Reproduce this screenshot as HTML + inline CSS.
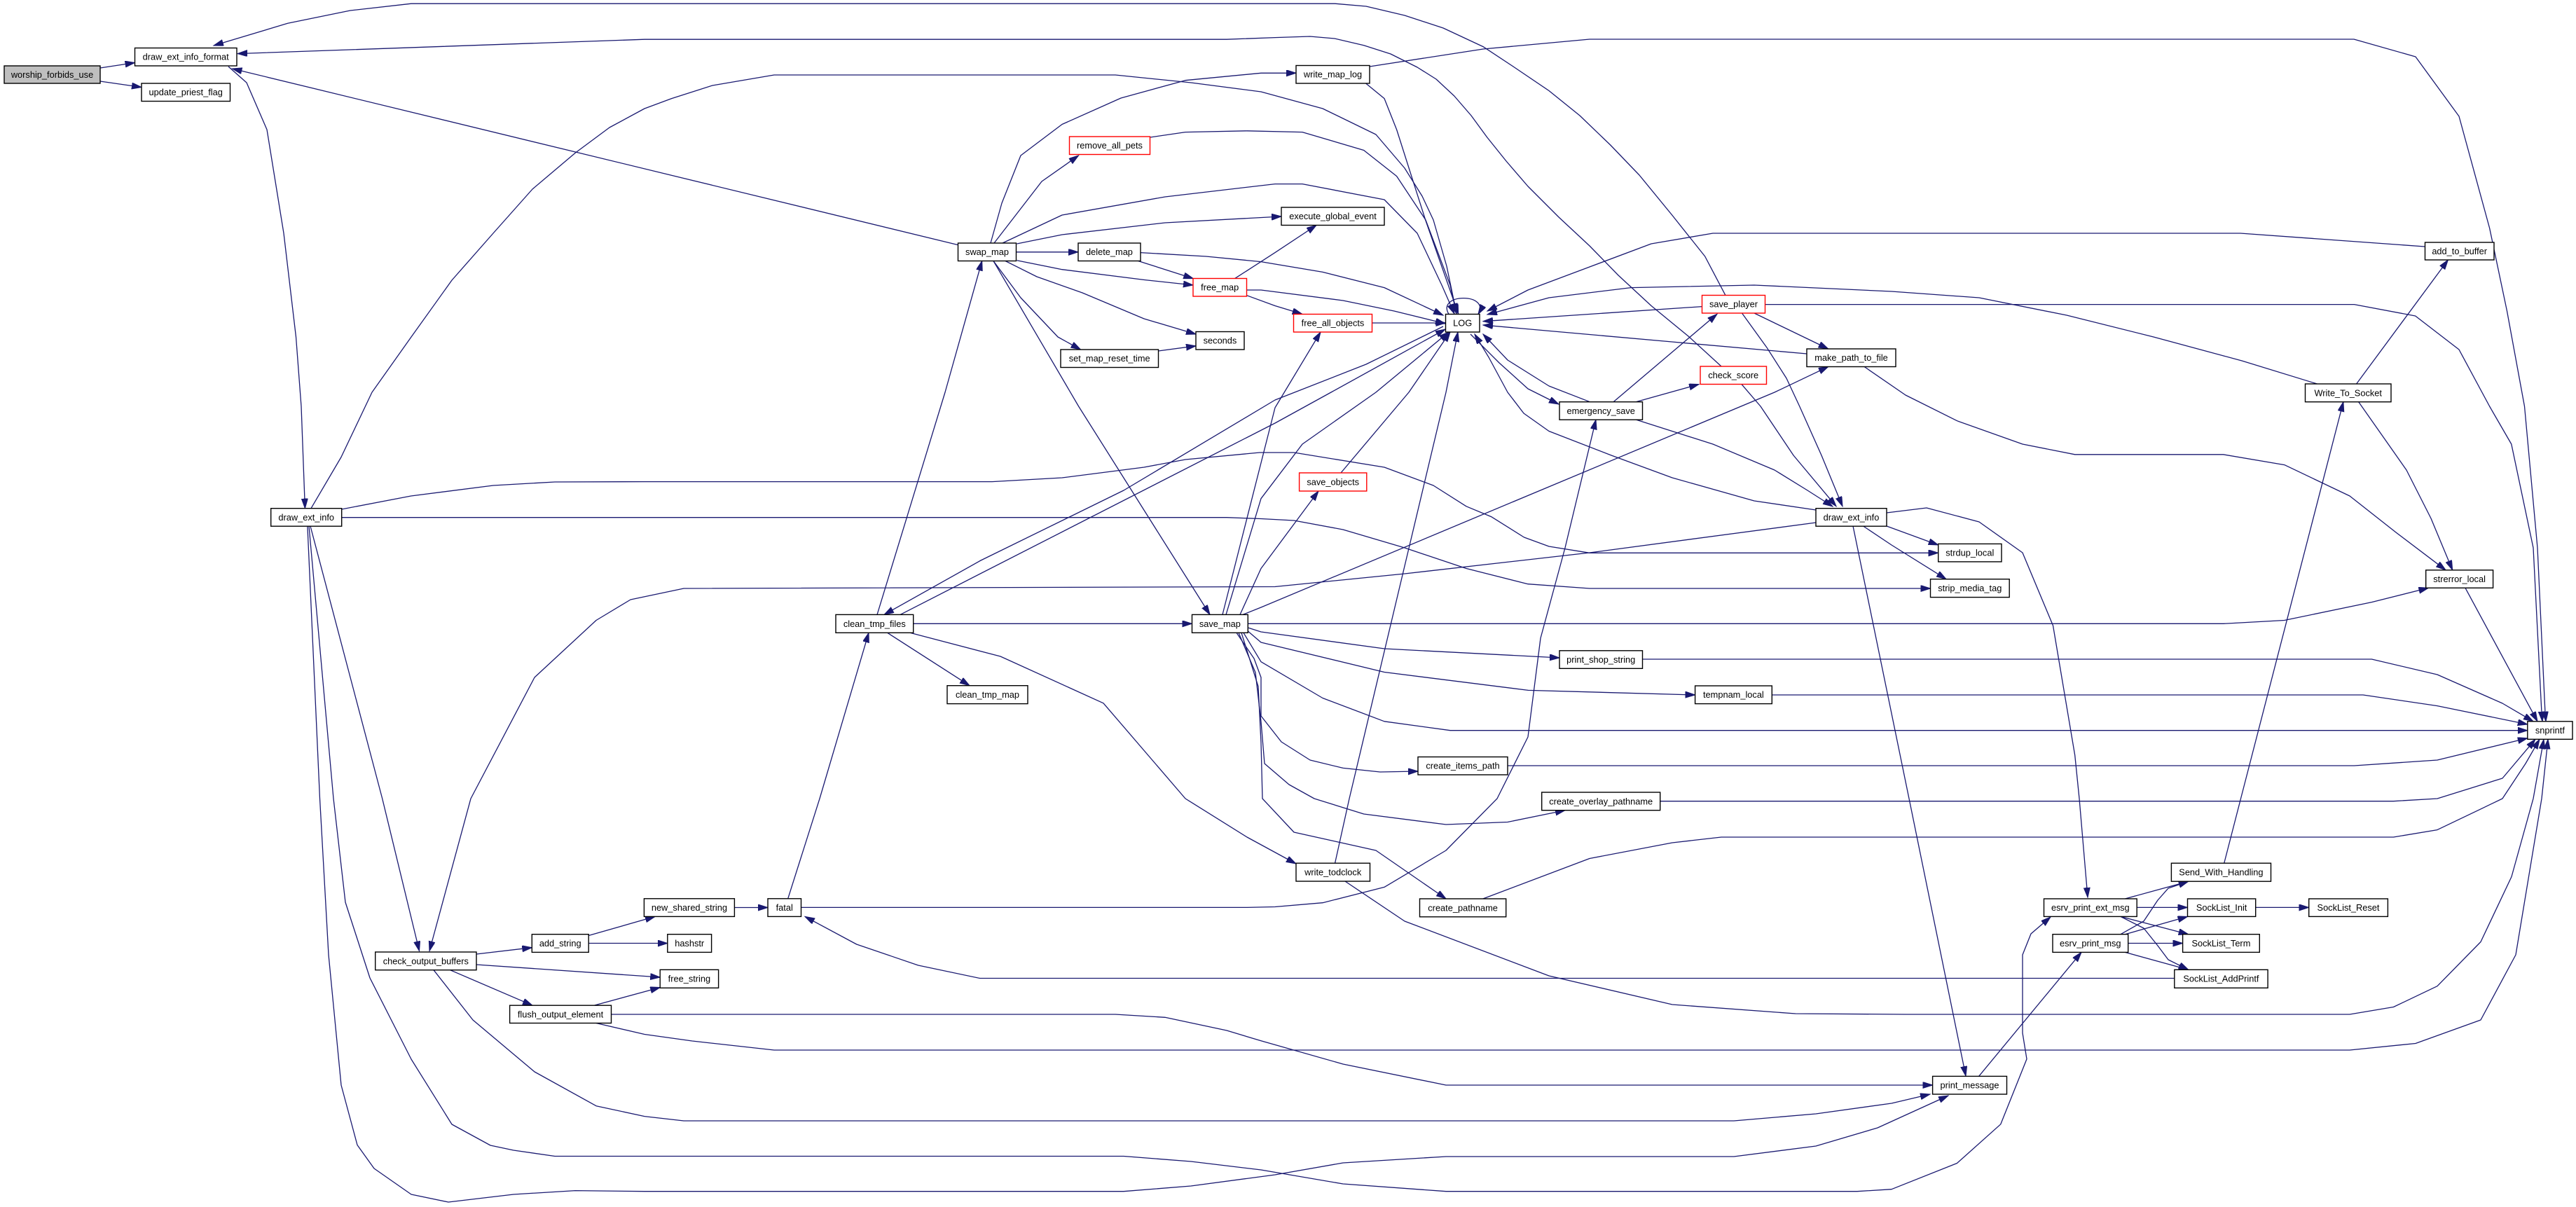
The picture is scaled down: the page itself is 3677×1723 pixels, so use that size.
<!DOCTYPE html>
<html><head><meta charset="utf-8"><style>
html,body{margin:0;padding:0;background:#fff;}
svg{display:block;}
.e{fill:none;stroke:#191970;stroke-width:1.3;stroke-linejoin:round;marker-end:url(#a);}
.n{fill:none;stroke:#191970;stroke-width:1.3;stroke-linejoin:round;}
.b{fill:#fff;stroke:#000;stroke-width:1.4;}
.r{fill:#fff;stroke:#ff0000;stroke-width:1.4;}
.g{fill:#bfbfbf;stroke:#000;stroke-width:1.4;}
text{font-family:"Liberation Sans",Arial,sans-serif;font-size:12.8px;fill:#000;text-anchor:middle;}
</style></head><body>
<svg width="3677" height="1723" viewBox="0 0 3677 1723" xmlns="http://www.w3.org/2000/svg">
<defs>
<marker id="a" markerWidth="16" markerHeight="10" refX="14" refY="4.5" orient="auto" markerUnits="userSpaceOnUse"><path d="M0,0 L14,4.5 L0,9 z" fill="#191970" stroke="#191970" stroke-width="1"/></marker>
</defs>
<rect width="3677" height="1723" fill="#fff"/>
<g>
<path class="e" d="M143,97 L192.5,89.5"/>
<path class="e" d="M143,116 L202,124.5"/>
<path class="e" d="M326,95 L352,118 L381,185 L405,333 L422.5,481 L430,580 L435.4,725.7"/>
<path class="e" d="M1367.5,349.6 L331.5,98"/>
<path class="e" d="M2463,421.7 L2433.7,366 L2386.7,307 L2340,250 L2298.7,207 L2255,165 L2211,129.5 L2160,95 L2117,66.6 L2060,40 L2005,22 L1950,9 L1905.6,5.2 L587,5.2 L500,15 L410.7,33.3 L305,65"/>
<path class="e" d="M2457,523 L2410,480 L2357,436.5 L2310,393 L2269,351 L2225,310 L2181,266 L2150,230 L2122.7,196 L2100,165 L2075.8,137 L2050,113 L2023,96 L1985,77 L1946.7,64.7 L1905,55 L1870,52 L1820,53.6 L1751,56.2 L920,56.2 L339,76.6"/>
<path class="e" d="M444,725.7 L487,652.5 L531,560 L587,481 L645,400 L704,333 L760,270 L821.5,218 L870,182 L920,155 L958.7,140.6 L1017,122 L1105,107 L1592,107 L1700,118 L1800,131 L1888,155 L1964,192 L2005,240 L2030,280 L2046,314 L2065,380 L2079,447"/>
<path class="e" d="M487.6,738.7 L1751,738.7 L1800,740.5 L1847,743 L1917,756 L2005,782 L2093,811.5 L2181,833.7 L2269,840 L2755.5,840"/>
<path class="e" d="M487.6,727 L586.7,708 L704,693 L792,688 L920,687.6 L1416,687.6 L1516,682 L1633,667 L1692,656 L1798,646 L1847,646 L1976,667 L2046,693 L2093,722.8 L2128.6,737.6 L2175.5,767 L2211,780 L2269,789.3 L2766.7,789.3"/>
<path class="e" d="M438.9,751 L456.5,1140 L469,1363 L487,1549 L510,1634.5 L534,1668 L587,1705 L640,1716 L733,1705 L821,1699.6 L920,1700.7 L1604,1700.7 L1700,1693 L1820,1677 L1917,1660 L2064,1651 L2475,1651 L2592,1636 L2680,1610 L2781,1564"/>
<path class="e" d="M441,751 L476,1140 L493,1288 L528,1396 L587,1512 L645,1605 L700,1635 L733,1642 L792,1650.5 L1604,1650.5 L1700,1658 L1800,1670 L1917,1690 L2064,1700.7 L2651,1700.7 L2700,1697.7 L2793.5,1660.5 L2855.8,1604.8 L2893,1511.8 L2887,1474.6 L2887,1363 L2899,1333 L2927,1309"/>
<path class="e" d="M443,751 L545.7,1140 L598.5,1357.5"/>
<path class="e" d="M2592,746 L2269,789 L2005,819 L1820,837.5 L976,840 L900,856 L851,885.5 L763,967 L672,1140 L613,1357.5"/>
<path class="e" d="M2645,751 L2725,1140 L2806,1536"/>
<path class="e" d="M2693,751 L2766.7,778"/>
<path class="e" d="M2659.6,751 L2700,778 L2778,826.7"/>
<path class="e" d="M2592,728 L2504,715 L2387,682 L2300,650 L2211,615.5 L2175,590 L2152,560 L2125,510 L2105,477"/>
<path class="e" d="M2693,732 L2750,725 L2825,745 L2887,789 L2930.5,893 L2961.7,1078 L2968,1140 L2980,1281"/>
<path class="e" d="M2335,599 L2445,634 L2533,671 L2580,700 L2616,723"/>
<path class="e" d="M2486.5,447 L2521.7,495.7 L2550,540 L2568.7,580 L2600,650 L2630,722.8"/>
<path class="e" d="M2486,548.6 L2513,580 L2560,650 L2621,722.8"/>
<path class="e" d="M2269.4,573.7 L2211,551 L2152,514 L2117,477"/>
<path class="e" d="M2099,477 L2140,518 L2181,555 L2225,577"/>
<path class="e" d="M2303,573.7 L2451,448.3"/>
<path class="e" d="M2335,573.7 L2425,548.6"/>
<path class="e" d="M2429.6,437.6 L2117,458.7"/>
<path class="e" d="M2579,505 L2386.7,488 L2117,464"/>
<path class="e" d="M2504,447 L2609.7,498"/>
<path class="e" d="M2519.4,434.6 L3360.5,434.6 L3447.7,451 L3510,499 L3553.6,580 L3584.8,634 L3616,782 L3628,1018 L3629,1029.8"/>
<path class="e" d="M1955,95 L2117,70 L2269,56 L3360,56 L3448,81 L3510,166 L3553.6,325.5 L3578.5,444 L3603.5,580 L3622,782 L3633,1018 L3634,1029.8"/>
<path class="e" d="M2661,523.4 L2720,564 L2793.5,600.7 L2887,634 L2961.7,648.8 L3173.6,648.8 L3260.8,663.6 L3354,708 L3420,760 L3491,813.8"/>
<path class="e" d="M3366.7,573.7 L3435,671 L3470,740 L3500.7,813.8"/>
<path class="e" d="M3363.6,548 L3494.4,371"/>
<path class="e" d="M3307.5,548 L3200,515 L3074,481 L2950,450 L2825,425 L2700,416 L2504,407 L2328,410.6 L2211,425 L2123,449"/>
<path class="e" d="M3461,352 L3198,333 L2445,333 L2357,348 L2269,381 L2181,414 L2123,444"/>
<path class="e" d="M3174.8,1232 L3198.5,1140 L3344.9,573.7"/>
<path class="e" d="M3033.4,1283 L3123.7,1258.2"/>
<path class="e" d="M3050.2,1295.4 L3122.5,1295.4"/>
<path class="e" d="M3027,1308.4 L3123.7,1333.7"/>
<path class="e" d="M3027,1308.4 L3060,1325 L3080,1350 L3095,1370 L3123.7,1384.3"/>
<path class="e" d="M3027,1333.7 L3060,1315 L3080,1285 L3095,1268 L3123.7,1258.2"/>
<path class="e" d="M3033.4,1333.7 L3122.5,1308.4"/>
<path class="e" d="M3037.7,1346.5 L3115.6,1346.5"/>
<path class="e" d="M3033.4,1359.4 L3123.7,1384.3"/>
<path class="e" d="M3219.7,1295.4 L3295.7,1295.4"/>
<path class="e" d="M2824.6,1536.4 L2971,1359.4"/>
<path class="e" d="M3103.8,1396.5 L1398.7,1396.5 L1310.7,1378 L1222.7,1348 L1149,1308.4"/>
<path class="e" d="M1048.4,1295.5 L1096,1295.5"/>
<path class="e" d="M1124.7,1282.8 L1170,1140 L1240,903.3"/>
<path class="e" d="M1143.5,1295.4 L1780,1295.4 L1820,1294.5 L1888,1288.7 L1976,1266.4 L2064,1214 L2137,1140 L2181,1052 L2199,911 L2234,782 L2278,599.2"/>
<path class="e" d="M840.2,1335.5 L935,1308.4"/>
<path class="e" d="M840.2,1346.5 L952.8,1346.5"/>
<path class="e" d="M680,1362 L759.3,1352.7"/>
<path class="e" d="M680,1377 L942.2,1395"/>
<path class="e" d="M848,1435.2 L942.2,1409.6"/>
<path class="e" d="M642.5,1384.7 L760,1435.2"/>
<path class="e" d="M619,1384.7 L675,1456 L763,1530 L851,1578.7 L920,1593.6 L976,1600 L2475,1600 L2592,1590 L2700,1575 L2755,1562"/>
<path class="e" d="M872.5,1448 L1592,1448 L1663,1452.3 L1751,1471 L1800,1485.8 L1917,1519 L2064,1549 L2758.6,1549"/>
<path class="e" d="M851,1460.5 L920,1476.5 L988,1486 L1105,1499 L3354,1499 L3448,1489.5 L3541,1456 L3591,1363 L3628,1140 L3637,1055.3"/>
<path class="e" d="M1920,1258 L2005,1315 L2211,1393 L2387,1434 L2563,1447 L2720,1448 L3354,1448 L3416.5,1437.5 L3479,1407.7 L3541,1344.5 L3585,1251.5 L3616,1140 L3631,1055.3"/>
<path class="e" d="M2116.8,1283 L2269,1225.5 L2387,1203 L2457,1195 L3416.5,1195 L3479,1184.6 L3541,1154.9 L3572,1140 L3605,1090 L3625,1055.3"/>
<path class="e" d="M2369.7,1143.7 L3416.5,1143.7 L3479,1140 L3572,1111 L3619,1055.3"/>
<path class="e" d="M2152,1093 L3360.5,1093 L3479,1085 L3607.8,1053.8"/>
<path class="e" d="M2529.3,992 L3373,992 L3479,1007.6 L3607.8,1034"/>
<path class="e" d="M2344.5,941 L3385.4,941 L3479,963 L3572,1004 L3616,1029.8"/>
<path class="e" d="M3519,839.3 L3622,1029.8"/>
<path class="e" d="M1775,903.3 L1800,944.7 L1888,996.5 L1976,1029.8 L2070,1042.7 L3607.8,1042.7"/>
<path class="e" d="M1781.3,890.3 L3173.6,890.3 L3260.8,885.5 L3385.4,859.6 L3466.4,839.3"/>
<path class="e" d="M1781.3,896 L1800,902 L1976,926 L2226,939"/>
<path class="e" d="M1781.3,901 L1800,917 L1976,959.5 L2181.4,985.4 L2419.6,992"/>
<path class="e" d="M1765,903.3 L1790,940 L1800,967 L1800,1022 L1829,1059 L1870,1085 L1917,1096.4 L1970,1102 L2024,1101"/>
<path class="e" d="M1768,903.3 L1792,960 L1800,1030 L1805,1090 L1840,1120 L1876,1140 L1946.7,1162 L2064,1177 L2152,1173.5 L2234,1156.7"/>
<path class="e" d="M1772,903.3 L1796,980 L1800,1060 L1802,1140 L1847,1188 L1905.6,1201 L1964,1214 L2064,1283"/>
<path class="e" d="M1750,877.4 L1800,711.7 L1859,634 L1964,560 L2068,474"/>
<path class="e" d="M1745,877.4 L1820,582 L1885,474"/>
<path class="e" d="M1770,877.4 L1800,811.5 L1882,701"/>
<path class="e" d="M1774,877.4 L1800,867 L2533,560 L2609.7,523.4"/>
<path class="e" d="M1303.7,890.3 L1701.5,890.3"/>
<path class="e" d="M1266.7,903.3 L1384,978.7"/>
<path class="e" d="M1252,877.4 L1349,560 L1401.7,372.5"/>
<path class="e" d="M2060,466 L1950,520 L1820,571 L1604,700 L1400,800 L1262,877.4"/>
<path class="e" d="M1285,877.4 L1820,604 L1900,560 L2063,470"/>
<path class="e" d="M1299,903.3 L1428,937 L1575,1003.8 L1692,1140 L1780,1195 L1849.9,1233"/>
<path class="e" d="M1905.6,1232 L1926,1140 L2064,560 L2081,474"/>
<path class="e" d="M1914,675 L2011,560 L2070,474"/>
<path class="e" d="M1958.4,461 L2063.5,461"/>
<path class="e" d="M1779.6,421.7 L1820,436.5 L1858.7,448.3"/>
<path class="e" d="M1779.6,414 L1800,414 L1917,429 L1990,444 L2063,462"/>
<path class="e" d="M1762.6,397.6 L1820,360.6 L1879,321.5"/>
<path class="e" d="M1628,360.6 L1721.5,366 L1800,373.6 L1888,388.4 L1976,410.6 L2060,450"/>
<path class="e" d="M1624.6,372.5 L1703.3,397.6"/>
<path class="e" d="M1450.5,359.8 L1539,359.8"/>
<path class="e" d="M1451.5,371.8 L1516,384.7 L1633.5,399.5 L1703,407"/>
<path class="e" d="M1435,372.5 L1480,395 L1545,418 L1633,455 L1707,477"/>
<path class="e" d="M1418,372.5 L1457,425 L1510,481 L1542.5,499"/>
<path class="e" d="M1418,372.5 L1539.6,580 L1727,877.4"/>
<path class="e" d="M1451.5,348 L1516,335 L1663,318 L1829,309"/>
<path class="e" d="M1431,347 L1516,307 L1663,281 L1820,262.6 L1859,262.6 L1976,285 L2023,333 L2058,407 L2076,448"/>
<path class="e" d="M1414,347 L1430,290 L1457,222 L1516,177.5 L1600,140 L1692,114.7 L1800,104.3 L1850,104.3"/>
<path class="e" d="M1419,347 L1487,259 L1539.6,222"/>
<path class="e" d="M1641.7,196 L1692,188.6 L1780,186.8 L1859,188.6 L1946.7,214.5 L1993.6,251.5 L2035,314 L2070,407 L2079,448"/>
<path class="e" d="M1949.6,119 L1976,140.6 L1993.6,185 L2034.7,314 L2081.6,448"/>
<path class="e" d="M1653.4,501 L1707,493.8"/>
<path class="e" d="M2068,448.5 C2050,418 2128,418 2110,448.5"/>
</g>
<g>
<rect class="g" x="6" y="94" width="137" height="25"/><text x="74.5" y="111">worship_forbids_use</text>
<rect class="b" x="192.5" y="68.5" width="145.5" height="25.5"/><text x="265.2" y="85.7">draw_ext_info_format</text>
<rect class="b" x="202" y="119" width="126.5" height="25.5"/><text x="265.2" y="136.2">update_priest_flag</text>
<rect class="b" x="1367.5" y="347" width="83" height="25.5"/><text x="1409" y="364.2">swap_map</text>
<rect class="r" x="1526.5" y="195" width="115" height="25.5"/><text x="1584" y="212.2">remove_all_pets</text>
<rect class="b" x="1539" y="347" width="89" height="25.5"/><text x="1583.5" y="364.2">delete_map</text>
<rect class="r" x="1703" y="397.5" width="76.5" height="25.5"/><text x="1741.2" y="414.7">free_map</text>
<rect class="b" x="1707" y="473.5" width="69" height="25.5"/><text x="1741.5" y="490.7">seconds</text>
<rect class="b" x="1514" y="499" width="139.5" height="25.5"/><text x="1583.7" y="516.2">set_map_reset_time</text>
<rect class="b" x="1850" y="93.5" width="105" height="25.5"/><text x="1902.5" y="110.7">write_map_log</text>
<rect class="b" x="1829" y="296" width="147" height="25.5"/><text x="1902.5" y="313.2">execute_global_event</text>
<rect class="r" x="1846.5" y="448.5" width="112" height="25.5"/><text x="1902.5" y="465.7">free_all_objects</text>
<rect class="b" x="2063.5" y="448.5" width="48.5" height="25.5"/><text x="2087.7" y="465.7">LOG</text>
<rect class="r" x="2429.5" y="421.5" width="90" height="25.5"/><text x="2474.5" y="438.7">save_player</text>
<rect class="r" x="2427" y="523" width="94.5" height="25.5"/><text x="2474.2" y="540.2">check_score</text>
<rect class="b" x="2579" y="498" width="127" height="25.5"/><text x="2642.5" y="515.2">make_path_to_file</text>
<rect class="b" x="2226" y="573.7" width="118.5" height="25.5"/><text x="2285.2" y="590.9">emergency_save</text>
<rect class="b" x="3461.5" y="346" width="98.5" height="25"/><text x="3510.7" y="363">add_to_buffer</text>
<rect class="b" x="3290.5" y="548" width="122.5" height="25.7"/><text x="3351.7" y="565.3">Write_To_Socket</text>
<rect class="b" x="386.7" y="725.7" width="101" height="25.5"/><text x="437.2" y="742.9">draw_ext_info</text>
<rect class="b" x="1193" y="877.4" width="110.7" height="25.9"/><text x="1248.3" y="894.8">clean_tmp_files</text>
<rect class="b" x="1701.5" y="877.4" width="79.8" height="25.9"/><text x="1741.4" y="894.8">save_map</text>
<rect class="b" x="1352" y="978.7" width="115" height="25.9"/><text x="1409.5" y="996.1">clean_tmp_map</text>
<rect class="r" x="1854.6" y="675" width="96.2" height="26"/><text x="1902.7" y="692.4">save_objects</text>
<rect class="b" x="2592" y="725.7" width="101" height="25.5"/><text x="2642.5" y="742.9">draw_ext_info</text>
<rect class="b" x="2226" y="928.8" width="118.5" height="25.5"/><text x="2285.2" y="946">print_shop_string</text>
<rect class="b" x="2419.6" y="979" width="109.7" height="25.6"/><text x="2474.4" y="996.2">tempnam_local</text>
<rect class="b" x="2024" y="1080.5" width="128" height="25.5"/><text x="2088" y="1097.7">create_items_path</text>
<rect class="b" x="2200.7" y="1131" width="169" height="25.7"/><text x="2285.2" y="1148.3">create_overlay_pathname</text>
<rect class="b" x="2766.7" y="776.4" width="90.3" height="25.5"/><text x="2811.8" y="793.6">strdup_local</text>
<rect class="b" x="2755.5" y="826.7" width="112.7" height="25.9"/><text x="2811.8" y="844.1">strip_media_tag</text>
<rect class="b" x="3462.7" y="813.8" width="95.9" height="25.5"/><text x="3510.6" y="831">strerror_local</text>
<rect class="b" x="3607.8" y="1029.8" width="64.2" height="25.5"/><text x="3639.9" y="1047">snprintf</text>
<rect class="b" x="535.7" y="1359" width="144.3" height="25.7"/><text x="607.8" y="1376.3">check_output_buffers</text>
<rect class="b" x="759.3" y="1333.7" width="80.9" height="25.7"/><text x="799.7" y="1351">add_string</text>
<rect class="b" x="727.6" y="1435.2" width="144.9" height="25.3"/><text x="800" y="1452.3">flush_output_element</text>
<rect class="b" x="919.4" y="1282.8" width="129" height="25.6"/><text x="983.9" y="1300">new_shared_string</text>
<rect class="b" x="1096" y="1282.8" width="47.5" height="25.6"/><text x="1119.7" y="1300">fatal</text>
<rect class="b" x="952.8" y="1333.7" width="62.8" height="25.7"/><text x="984.2" y="1351">hashstr</text>
<rect class="b" x="942.2" y="1384.3" width="83.4" height="26"/><text x="983.9" y="1401.7">free_string</text>
<rect class="b" x="1850" y="1232.2" width="105.5" height="25.8"/><text x="1902.7" y="1249.5">write_todclock</text>
<rect class="b" x="2026.5" y="1283" width="123.2" height="25.8"/><text x="2088.1" y="1300.3">create_pathname</text>
<rect class="b" x="3099.4" y="1232.2" width="142.1" height="26"/><text x="3170.4" y="1249.6">Send_With_Handling</text>
<rect class="b" x="2917.5" y="1283" width="132.7" height="25.4"/><text x="2983.8" y="1300.1">esrv_print_ext_msg</text>
<rect class="b" x="3122.5" y="1283" width="97.2" height="25.4"/><text x="3171.1" y="1300.1">SockList_Init</text>
<rect class="b" x="3295.7" y="1283" width="112.7" height="25.4"/><text x="3352" y="1300.1">SockList_Reset</text>
<rect class="b" x="2930" y="1333.7" width="107.7" height="25.7"/><text x="2983.8" y="1351">esrv_print_msg</text>
<rect class="b" x="3115.6" y="1333.7" width="109.7" height="25.7"/><text x="3170.4" y="1351">SockList_Term</text>
<rect class="b" x="3103.8" y="1384.3" width="133.3" height="26"/><text x="3170.4" y="1401.7">SockList_AddPrintf</text>
<rect class="b" x="2758.6" y="1536.4" width="105.9" height="25.6"/><text x="2811.5" y="1553.6">print_message</text>
</g>
</svg>
</body></html>
